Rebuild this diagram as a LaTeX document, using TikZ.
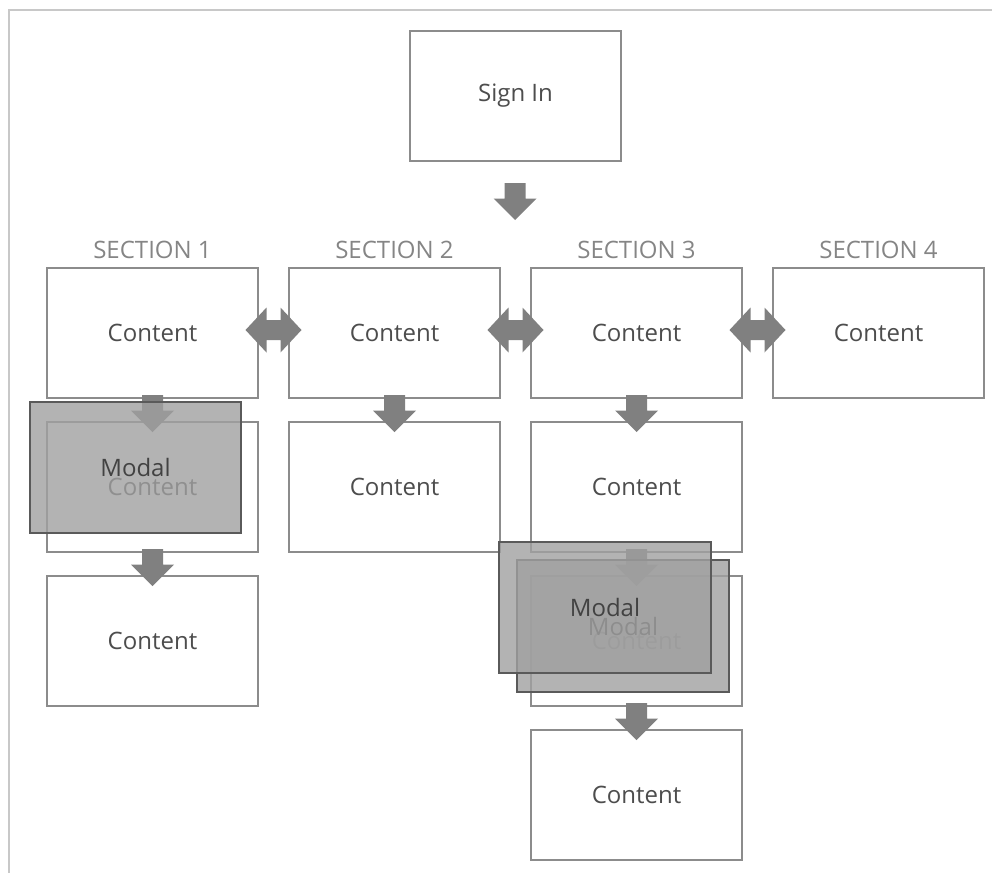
\documentclass[tikz,border=0pt]{standalone}
\usepackage{fontspec}
\setmainfont{Open Sans}
\usetikzlibrary{calc}
\definecolor{frameline}{HTML}{C8C8C8}
\definecolor{boxline}{HTML}{8C8C8C}
\definecolor{txt}{HTML}{4D4D4D}
\definecolor{sectxt}{HTML}{858585}
\definecolor{arrowgray}{HTML}{808080}
\definecolor{modalfill}{HTML}{A0A0A0}
\definecolor{modalline}{HTML}{5A5A5A}
\begin{document}
\begin{tikzpicture}[x=1pt,y=-1pt,
  box/.style={draw=boxline, line width=1.2pt, fill=white, minimum width=211pt,
    minimum height=130pt, inner sep=0pt, outer sep=0pt, text=txt,
    font=\fontsize{24}{28}\selectfont},
  modal/.style={draw=modalline, line width=1.4pt, fill=modalfill, fill opacity=0.8,
    draw opacity=1, text opacity=1, minimum width=211pt, minimum height=131pt,
    inner sep=0pt, outer sep=0pt, text=txt!85!black,
    font=\fontsize{24}{28}\selectfont},
  seclabel/.style={anchor=base, text=sectxt, inner sep=0pt,
    font=\fontsize{24}{28}\selectfont},
  darr/.pic={\fill[arrowgray] (-10.5,-18.5) -- (10.5,-18.5) -- (10.5,-3) -- (21.5,-3)
    -- (0,18.5) -- (-21.5,-3) -- (-10.5,-3) -- cycle;},
  harr/.pic={\fill[arrowgray] (-28,0) -- (-7,-22.5) -- (-7,-10) -- (7,-10) -- (7,-22.5)
    -- (28,0) -- (7,22.5) -- (7,10) -- (-7,10) -- (-7,22.5) -- cycle;},
]
\useasboundingbox (0,0) rectangle (992,873);
% frame
\coordinate (ftr) at (992,10);
\coordinate (ftl) at (9,10);
\coordinate (fbl) at (9,873);
\draw[frameline, line width=2pt] (ftr) -- (ftl) -- (fbl);

% boxes
\node[box] (signin) at (515.5,96) {Sign In};
\node[box] (c11) at (152.5,333) {Content};
\node[box] (c12) at (394.5,333) {Content};
\node[box] (c13) at (636.5,333) {Content};
\node[box] (c14) at (878.5,333) {Content};
\node[box] (c21) at (152.5,487) {Content};
\node[box] (c22) at (394.5,487) {Content};
\node[box] (c23) at (636.5,487) {Content};
\node[box] (c31) at (152.5,641) {Content};
\node[box] (c33) at (636.5,641) {Content};
\node[box] (c43) at (636.5,795) {Content};

% section labels
\node[seclabel] (s1) at (152.5,258) {SECTION 1};
\node[seclabel] (s2) at (394.5,258) {SECTION 2};
\node[seclabel] (s3) at (636.5,258) {SECTION 3};
\node[seclabel] (s4) at (878.5,258) {SECTION 4};

% arrows
\pic at ($(signin.south)+(-0.5,40.5)$) {darr};
\pic at ($(c11.south)!0.5!(c21.north)+(0,3.5)$) {darr};
\pic at ($(c12.south)!0.5!(c22.north)+(0,3.5)$) {darr};
\pic at ($(c13.south)!0.5!(c23.north)+(0,3.5)$) {darr};
\pic at ($(c21.south)!0.5!(c31.north)+(0,3.5)$) {darr};
\pic at ($(c23.south)!0.5!(c33.north)+(0,3.5)$) {darr};
\pic at ($(c33.south)!0.5!(c43.north)+(0,3.5)$) {darr};
\pic at ($(c11.east)!0.5!(c12.west)+(0,-3)$) {harr};
\pic at ($(c12.east)!0.5!(c13.west)+(0,-3)$) {harr};
\pic at ($(c13.east)!0.5!(c14.west)+(0,-3)$) {harr};

% modals
\node[modal] (m1) at (135.5,467.5) {Modal};
\node[modal, minimum width=212pt, minimum height=132pt] (m3b) at (623,626) {Modal};
\node[modal, minimum width=212pt] (m3a) at (605,607.5) {Modal};
\end{tikzpicture}
\end{document}
